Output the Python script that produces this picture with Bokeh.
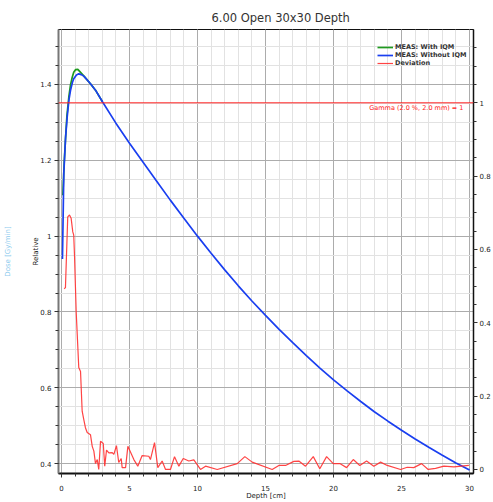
from bokeh.plotting import figure
from bokeh.models import (Range1d, LinearAxis, SingleIntervalTicker, FixedTicker, CustomJSTickFormatter,
                          Span, Label, Legend, LegendItem, Title)
from bokeh.embed import file_html
from bokeh.resources import INLINE

# ---- data ----
depth_with = [0.10, 0.20, 0.29, 0.40, 0.54, 0.66, 0.79, 0.90, 1.03, 1.20, 1.40, 1.70, 2.13, 2.50, 3.00]
dose_with = [1.108, 1.195, 1.253, 1.318, 1.367, 1.398, 1.419, 1.432, 1.439, 1.440, 1.432, 1.420, 1.402, 1.385, 1.355]

depth_without = [0.07, 0.17, 0.30, 0.42, 0.55, 0.66, 0.80, 0.90, 1.10, 1.27, 1.45, 1.64, 2.13, 2.50, 3.0,
                 4, 5, 6, 7, 8, 9, 10, 11, 12, 13, 14, 15, 16, 17, 18, 19, 20,
                 21, 22, 23, 24, 25, 26, 27, 28, 29, 30]
dose_without = [0.940, 1.165, 1.260, 1.315, 1.360, 1.384, 1.405, 1.415, 1.425, 1.428, 1.426, 1.422, 1.402, 1.385, 1.355,
                1.298, 1.245, 1.195, 1.145, 1.095, 1.047, 1.000, 0.955, 0.911, 0.869, 0.829, 0.791, 0.754, 0.719, 0.685, 0.652, 0.621,
                0.592, 0.564, 0.537, 0.512, 0.488, 0.465, 0.443, 0.422, 0.402, 0.383]

dev_depth = [0.20, 0.29, 0.46, 0.59, 0.71, 0.83, 0.90, 0.96, 1.08, 1.27, 1.40, 1.52, 1.64, 1.76, 1.89,
             2.13, 2.26, 2.38, 2.50, 2.63, 2.74, 2.87, 3.07, 3.18, 3.31, 3.48, 3.73, 3.85, 4.04, 4.21,
             4.39, 4.46, 4.71, 4.88, 5.32, 5.61, 5.93, 6.42, 6.54, 6.84, 7.08, 7.40, 7.65, 8.01, 8.31,
             8.63, 8.95, 9.36, 9.73, 10.22, 10.59, 11.45, 12.92, 13.48, 14.02, 15.49, 15.98, 16.47, 17.08,
             17.45, 17.94, 18.51, 18.99, 19.49, 19.98, 20.46, 20.96, 21.45, 21.93, 22.43, 22.96, 23.46,
             23.95, 24.93, 25.42, 25.90, 26.47, 26.96, 27.50, 28.11, 28.85, 29.95]
dev_gamma = [0.493, 0.496, 0.689, 0.694, 0.685, 0.648, 0.639, 0.580, 0.430, 0.278, 0.267, 0.159, 0.136, 0.114, 0.101,
             0.095, 0.063, 0.050, 0.016, 0.027, 0.000, 0.077, 0.071, 0.009, 0.053, 0.045, 0.046, 0.041, 0.065, 0.019,
             0.030, 0.005, 0.005, 0.063, 0.027, 0.009, 0.038, 0.036, 0.027, 0.073, 0.005, 0.023, 0.000, 0.000, 0.035,
             0.009, 0.030, 0.023, 0.026, 0.000, 0.009, 0.000, 0.016, 0.035, 0.020, 0.000, 0.011, 0.011, 0.022,
             0.023, 0.009, 0.035, 0.002, 0.035, 0.016, 0.016, 0.005, 0.027, 0.011, 0.023, 0.009, 0.020,
             0.011, 0.000, 0.006, 0.005, 0.016, 0.000, 0.003, 0.009, 0.007, 0.011]

gamma_criterion = 1.0
title_text = "6.00 Open 30x30 Depth"
x_label = "Depth [cm]"
left_label = "Relative"
outer_left_label = "Dose [Gy/min]"
gamma_label = "Gamma (2.0 %, 2.0 mm) = 1"
legend_labels = ["MEAS: With IQM", "MEAS: Without IQM", "Deviation"]

# ---- layout ----
W, H = 493, 502
FL, FR, FT, FB = 58, 473, 29, 474
X0, X1 = -0.22, 30.29
Y0, Y1 = 0.374, 1.545
G0, G1 = -0.011, 1.2

FONT = "DejaVu Sans"

p = figure(width=W, height=H, output_backend="svg", toolbar_location=None,
           x_range=Range1d(X0, X1), y_range=Range1d(Y0, Y1),
           min_border_left=FL, min_border_right=W - FR, min_border_top=FT, min_border_bottom=H - FB,
           background_fill_color="white", border_fill_color="white")
p.extra_y_ranges = {"gamma": Range1d(G0, G1)}

p.title = Title(text=title_text, align="left", offset=153, text_font=FONT,
                text_font_size="11.5px", text_font_style="normal", text_color="#333333", standoff=9)

fmt = CustomJSTickFormatter(code="return String(Math.round(tick*100)/100);")

def style_axis(ax, line_color="#222222", line_width=1):
    ax.formatter = fmt
    ax.axis_line_color = line_color
    ax.axis_line_width = line_width
    ax.major_tick_out = 4
    ax.major_tick_in = 0
    ax.minor_tick_out = 3
    ax.minor_tick_in = 0
    ax.major_tick_line_color = "#333333"
    ax.minor_tick_line_color = "#333333"
    ax.major_label_text_font = FONT
    ax.major_label_text_font_size = "7px"
    ax.major_label_text_color = "#222222"
    ax.major_label_standoff = 3
    ax.axis_label_text_font = FONT
    ax.axis_label_text_font_size = "7px"
    ax.axis_label_text_font_style = "normal"
    ax.axis_label_text_color = "#222222"

xt = SingleIntervalTicker(interval=5, num_minor_ticks=5)
yt = SingleIntervalTicker(interval=0.2, num_minor_ticks=4)
gt = SingleIntervalTicker(interval=0.2, num_minor_ticks=4)

p.xaxis.ticker = xt
p.yaxis.ticker = yt
style_axis(p.xaxis[0], "#111111", 2)
style_axis(p.yaxis[0], "#777777", 2)
p.xaxis.major_label_standoff = 7
p.xaxis.axis_label = x_label
p.xaxis.axis_label_standoff = -2
p.yaxis.axis_label = left_label
p.yaxis.axis_label_standoff = -3

# outer faint label on the far left (axis without ticks)
oax = LinearAxis(axis_label=outer_left_label, ticker=FixedTicker(ticks=[]))
oax.axis_line_alpha = 0
oax.major_tick_out = 0
oax.minor_tick_out = 0
oax.major_label_standoff = 0
oax.axis_label_standoff = 18
oax.axis_label_text_font = FONT
oax.axis_label_text_font_size = "7px"
oax.axis_label_text_font_style = "normal"
oax.axis_label_text_color = "#8ccaee"
p.add_layout(oax, "left")

rax = LinearAxis(y_range_name="gamma", ticker=gt)
style_axis(rax, "#111111", 1.5)
rax.major_label_standoff = 2
p.add_layout(rax, "right")

p.xgrid.ticker = xt
p.ygrid.ticker = yt
for g in (p.xgrid, p.ygrid):
    g.grid_line_color = "#acacac"
    g.grid_line_width = 1
    g.minor_grid_line_color = "#e2e2e2"
    g.minor_grid_line_width = 1

p.outline_line_color = "#111111"
p.outline_line_width = 1

# ---- curves ----
r_with = p.line(depth_with, dose_with, line_color="#1f9a1f", line_width=1.7)
r_without = p.line(depth_without, dose_without, line_color="#1a3ff0", line_width=1.7)
r_dev = p.line(dev_depth, dev_gamma, line_color="#ff3030", line_width=1.2, line_alpha=0.9,
               y_range_name="gamma")

p.add_layout(Span(location=gamma_criterion, dimension="width", y_range_name="gamma",
                  line_color="#ff2020", line_width=1))

def px_x(px):
    return X0 + (px - FL) * (X1 - X0) / (FR - FL)

def px_y(py):
    return Y1 - (py - FT) * (Y1 - Y0) / (FB - FT)

p.add_layout(Label(x=px_x(463), y=px_y(107.5), text=gamma_label, text_font=FONT,
                   text_font_size="6.5px", text_color="#ff2020", text_align="right",
                   text_baseline="middle"))

# ---- legend ----
legend = Legend(items=[LegendItem(label=legend_labels[0], renderers=[r_with]),
                       LegendItem(label=legend_labels[1], renderers=[r_without]),
                       LegendItem(label=legend_labels[2], renderers=[r_dev])],
                location=(377 - FL, FB - 68),
                background_fill_alpha=0, border_line_alpha=0,
                label_text_font=FONT, label_text_font_size="6.5px", label_text_font_style="bold",
                label_text_color="#333333",
                glyph_width=16, glyph_height=8, label_height=8, label_standoff=2,
                spacing=0, padding=0, margin=0)
p.add_layout(legend, "center")

open("out.html", "w").write(file_html(p, INLINE))
